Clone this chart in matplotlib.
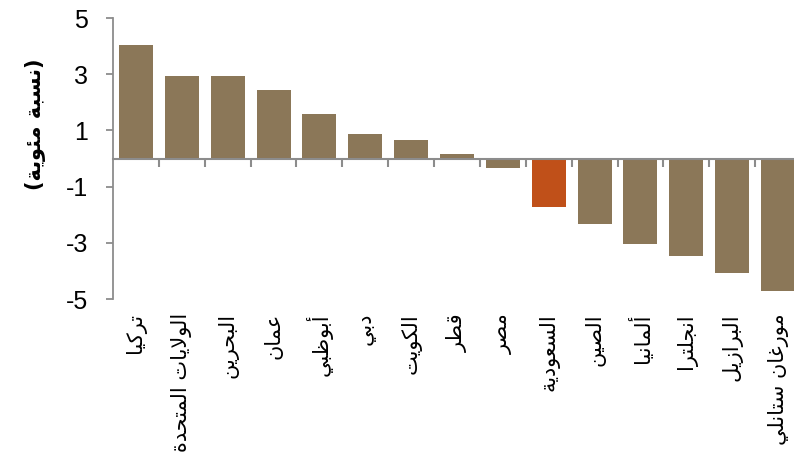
import matplotlib
matplotlib.use("Agg")
import matplotlib.pyplot as plt
import matplotlib.transforms as mtransforms

# ---------------- data ----------------
categories = ["تركيا", "الولايات المتحدة", "البحرين", "عمان", "أبوظبي", "دبي",
              "الكويت", "قطر", "مصر", "السعودية", "الصين", "ألمانيا",
              "انجلترا", "البرازيل", "مورغان ستانلي"]
values = [4.05, 2.92, 2.92, 2.44, 1.57, 0.87, 0.66, 0.17, -0.33, -1.73,
          -2.33, -3.04, -3.46, -4.07, -4.72]
highlight = "السعودية"
y_ticks = [-5, -3, -1, 1, 3, 5]
y_label = "(نسبة مئوية)"

# ---------------- minimal Arabic shaping ----------------
DUAL = {'ئ': 0xFE89, 'ب': 0xFE8F, 'ت': 0xFE95, 'ث': 0xFE99, 'ج': 0xFE9D,
        'ح': 0xFEA1, 'خ': 0xFEA5, 'س': 0xFEB1, 'ش': 0xFEB5, 'ص': 0xFEB9,
        'ض': 0xFEBD, 'ط': 0xFEC1, 'ظ': 0xFEC5, 'ع': 0xFEC9, 'غ': 0xFECD,
        'ف': 0xFED1, 'ق': 0xFED5, 'ك': 0xFED9, 'ل': 0xFEDD, 'م': 0xFEE1,
        'ن': 0xFEE5, 'ه': 0xFEE9, 'ي': 0xFEF1}
RIGHT = {'آ': 0xFE81, 'أ': 0xFE83, 'ؤ': 0xFE85, 'إ': 0xFE87, 'ا': 0xFE8D,
         'ة': 0xFE93, 'د': 0xFEA9, 'ذ': 0xFEAB, 'ر': 0xFEAD, 'ز': 0xFEAF,
         'و': 0xFEED, 'ى': 0xFEEF}
LIG = {'ا': 0xFEFB, 'أ': 0xFEF7, 'إ': 0xFEF9, 'آ': 0xFEF5}
MIRROR = {'(': ')', ')': '('}


def shape(text):
    toks = []
    i = 0
    while i < len(text):
        c = text[i]
        if c == 'ل' and i + 1 < len(text) and text[i + 1] in LIG:
            b = LIG[text[i + 1]]
            toks.append(('R', (chr(b), chr(b + 1))))
            i += 2
            continue
        if c in DUAL:
            b = DUAL[c]
            toks.append(('D', (chr(b), chr(b + 1), chr(b + 2), chr(b + 3))))
        elif c in RIGHT:
            b = RIGHT[c]
            toks.append(('R', (chr(b), chr(b + 1))))
        else:
            toks.append(('N', MIRROR.get(c, c)))
        i += 1
    out = []
    n = len(toks)
    for k, (kind, forms) in enumerate(toks):
        if kind == 'N':
            out.append(forms)
            continue
        jp = k > 0 and toks[k - 1][0] == 'D'
        jn = kind == 'D' and k + 1 < n and toks[k + 1][0] in ('D', 'R')
        if jp and jn:
            out.append(forms[3])
        elif jp:
            out.append(forms[1])
        elif jn:
            out.append(forms[2])
        else:
            out.append(forms[0])
    return ''.join(reversed(out))


# ---------------- plot ----------------
bar_color = "#8B7758"
hi_color = "#C05019"
axis_color = "#8C8C8C"

fig = plt.figure(figsize=(7.94, 4.65), dpi=100)
ax = fig.add_axes([113 / 794, 1 - 299 / 465, 688 / 794, 281 / 465])

x = list(range(len(categories)))
colors = [hi_color if c == highlight else bar_color for c in categories]
ax.bar(x, values, width=0.74, color=colors, zorder=2)

ax.set_xlim(-0.5, len(categories) - 0.5)
ax.set_ylim(-5, 5)
ax.set_yticks(y_ticks)
ax.set_yticklabels([str(v) for v in y_ticks], fontsize=18,
                   family="Liberation Sans")
ax.tick_params(axis="y", direction="out", length=5, width=1.3,
               color=axis_color, pad=13)

for s in ("top", "right"):
    ax.spines[s].set_visible(False)
ax.spines["left"].set_color(axis_color)
ax.spines["left"].set_linewidth(1.3)
ax.spines["bottom"].set_position(("data", 0))
ax.spines["bottom"].set_color(axis_color)
ax.spines["bottom"].set_linewidth(1.5)
ax.spines["bottom"].set_zorder(3)

# category separator ticks on the zero line
ax.set_xticks([i + 0.5 for i in x[:-1]])
ax.set_xticklabels([])
ax.tick_params(axis="x", direction="out", length=6, width=1.5,
               color=axis_color)

# category labels at the bottom, rotated
trans = mtransforms.blended_transform_factory(ax.transData, ax.transAxes)
for xi, cat in zip(x, categories):
    ax.text(xi, -0.05, shape(cat), rotation=90, ha="center", va="top",
            fontsize=15, family="DejaVu Sans", transform=trans)

fig.text(35 / 794, 1 - 124 / 465, shape(y_label), rotation=90,
         ha="center", va="center", fontsize=15, fontweight="bold",
         family="DejaVu Sans")

fig.savefig("out.png", dpi=100)
